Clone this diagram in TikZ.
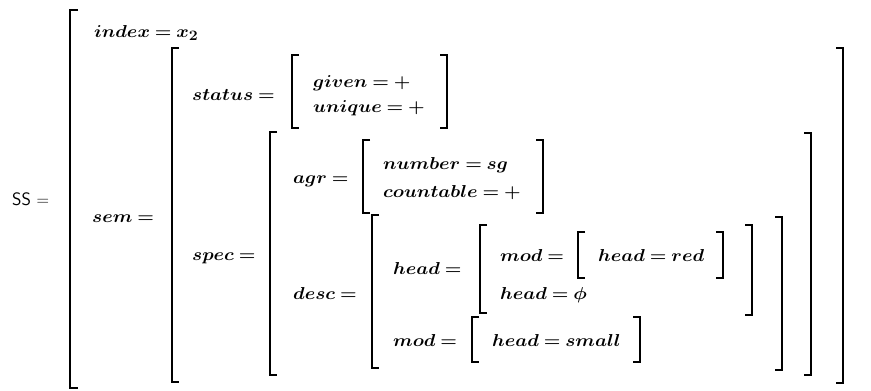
\documentclass[tikz,border=0pt]{standalone}
\usepackage{amsmath}
\usepackage{graphicx}
\newcommand{\avm}[1]{\scalebox{1.1}[1]{$\thickmuskip=4mu #1$}}
\begin{document}
\begin{tikzpicture}[x=1pt,y=1pt,yscale=-1,xscale=1,
    brk/.style={line width=2.2pt},
    lbl/.style={anchor=base west,inner sep=0pt,font=\fontsize{19}{23}\selectfont\boldmath},
    sslbl/.style={anchor=base west,inner sep=0pt,font=\fontsize{18}{22}\selectfont\sffamily}]
    	\useasboundingbox (0,0) rectangle (871,391);
    	
    	\draw [brk] (78,10) -- (70,10) -- (70,388) -- (78,388) ;
    	
    	\draw [brk] (179,48) -- (172,48) -- (172,382) -- (179,382) ;
    	\draw [brk] (836,48) -- (843,48) -- (843,383) -- (836,383) ;
    	
    	\draw [brk] (299,55) -- (292,55) -- (292,128) -- (299,128) ;
    	\draw [brk] (440,55) -- (447,55) -- (447,128) -- (440,128) ;
    	
    	\draw [brk] (277,132) -- (270,132) -- (270,375) -- (277,375) ;
    	\draw [brk] (804,133) -- (811,133) -- (811,375) -- (804,375) ;
    	
    	\draw [brk] (370,140) -- (363,140) -- (363,213) -- (370,213) ;
    	\draw [brk] (536,140) -- (543,140) -- (543,213) -- (536,213) ;
    	
    	\draw [brk] (379,215) -- (372,215) -- (372,368) -- (379,368) ;
    	\draw [brk] (775,217) -- (782,217) -- (782,370) -- (775,370) ;
    	
    	\draw [brk] (487,225) -- (480,225) -- (480,313) -- (487,313) ;
    	\draw [brk] (745,225) -- (752,225) -- (752,315) -- (745,315) ;
    	
    	\draw [brk] (585,232) -- (578,232) -- (578,278) -- (585,278) ;
    	\draw [brk] (716,232) -- (723,232) -- (723,278) -- (716,278) ;
    	
    	\draw [brk] (479,317) -- (472,317) -- (472,362) -- (479,362) ;
    	\draw [brk] (633,317) -- (640,317) -- (640,362) -- (633,362) ;
    	
    	
    	\node (ss) [sslbl] at (12,205) {SS $=$};
    	\node (index) [lbl] at (94,37) {\avm{index = x_2}};
    	\node (status) [lbl] at (192,100) {\avm{status =}};
    	\node (given) [lbl] at (313,87) {\avm{given = +}};
    	\node (unique) [lbl] at (313,112) {\avm{unique = +}};
    	\node (sem) [lbl] at (92,222) {\avm{sem =}};
    	\node (spec) [lbl] at (192,260) {\avm{spec =}};
    	\node (agr) [lbl] at (293,183) {\avm{agr =}};
    	\node (number) [lbl] at (383,169) {\avm{number = sg}};
    	\node (countable) [lbl] at (383,197) {\avm{countable = +}};
    	\node (desc) [lbl] at (293,299) {\avm{desc =}};
    	\node (deschead) [lbl] at (393,274) {\avm{head =}};
    	\node (innermod) [lbl] at (500,261) {\avm{mod =}};
    	\node (headred) [lbl] at (598,261) {\avm{head = red}};
    	\node (headphi) [lbl] at (500,299) {\avm{head = \phi}};
    	\node (descmod) [lbl] at (393,346) {\avm{mod =}};
    	\node (headsmall) [lbl] at (492,346) {\avm{head = small}};
    	
    	
\end{tikzpicture}
\end{document}
